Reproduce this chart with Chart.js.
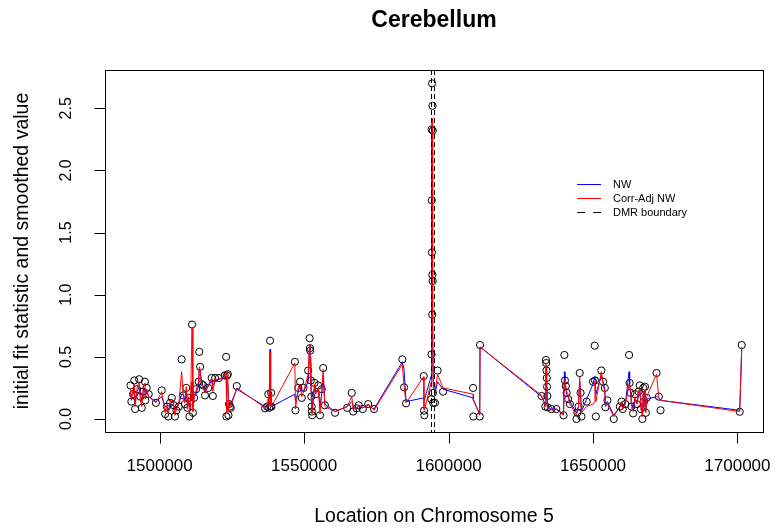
<!DOCTYPE html>
<html>
<head>
<meta charset="utf-8">
<script src="https://cdn.jsdelivr.net/npm/chart.js@4.4.1/dist/chart.umd.min.js"></script>
<style>
  html, body { margin: 0; padding: 0; background: #fff; }
  #wrap { width: 780px; height: 531px; }
</style>
</head>
<body>
<div id="wrap"><canvas id="c" width="780" height="531"></canvas></div>
<script>
// CpG locations on chromosome 5
const positions = [
  1489900, 1490200, 1490800, 1491200, 1491500, 1492200, 1492900, 1493300, 1493800, 1494300,
  1494900, 1495000, 1495500, 1496200, 1498700, 1500700, 1501900, 1502500, 1503000, 1503600,
  1504200, 1504900, 1505300, 1505800, 1506600, 1507600, 1508200, 1508700, 1509200, 1509600,
  1510000, 1510300, 1510700, 1511200, 1511500, 1511900, 1512600, 1513500, 1513700, 1514000,
  1514500, 1515100, 1515700, 1516800, 1518000, 1518400, 1519200, 1520500, 1522500, 1523000,
  1523100, 1523300, 1523600, 1523800, 1524000, 1524300, 1524600, 1526700, 1536500, 1537200,
  1537600, 1537900, 1538200, 1538400, 1538600, 1538700, 1546800, 1547000, 1548000, 1548600,
  1549200, 1549800, 1551400, 1551900, 1552000, 1552100, 1552300, 1552500, 1552600, 1552700,
  1552800, 1553600, 1554000, 1554900, 1555500, 1556100, 1556600, 1557200, 1560700, 1564900,
  1566500, 1567000, 1568200, 1568900, 1570300, 1572200, 1574200, 1584000, 1584600, 1585300,
  1591400, 1591500, 1591600, 1594050, 1594100, 1594150, 1594200, 1594250, 1594300, 1594350,
  1594400, 1594450, 1594500, 1594550, 1594600, 1594700, 1595300, 1596200, 1598100, 1608500,
  1608600, 1610800, 1610900, 1632200, 1633500, 1633700, 1633800, 1633900, 1634000, 1634100,
  1634200, 1634300, 1635600, 1637300, 1639800, 1640100, 1640300, 1640600, 1640900, 1641400,
  1642000, 1644300, 1644600, 1645000, 1645400, 1645700, 1646000, 1647800, 1650000, 1650600,
  1650700, 1651000, 1652900, 1653500, 1654100, 1654300, 1655000, 1657200, 1659300, 1659900,
  1660300, 1661200, 1662500, 1662700, 1663000, 1663300, 1663900, 1664500, 1665200, 1665800,
  1666200, 1666600, 1667100, 1667400, 1667700, 1668000, 1668300, 1668600, 1672000, 1672800,
  1673400, 1700800, 1701500
];

// initial fit statistic at each location
const fitStat = [
  0.27, 0.14, 0.20, 0.31, 0.08, 0.24, 0.32, 0.18, 0.09, 0.22,
  0.30, 0.15, 0.25, 0.20, 0.13, 0.23, 0.04, 0.10, 0.02, 0.13,
  0.17, 0.11, 0.02, 0.07, 0.10, 0.48, 0.19, 0.12, 0.25, 0.09,
  0.17, 0.02, 0.14, 0.76, 0.05, 0.17, 0.24, 0.30, 0.54, 0.42,
  0.28, 0.27, 0.19, 0.25, 0.33, 0.185, 0.33, 0.33, 0.35, 0.50,
  0.02, 0.35, 0.36, 0.03, 0.12, 0.10, 0.09, 0.265, 0.086, 0.10,
  0.20, 0.09, 0.63, 0.10, 0.21, 0.10, 0.46, 0.07, 0.25, 0.30,
  0.17, 0.25, 0.39, 0.65, 0.57, 0.55, 0.31, 0.18, 0.10, 0.06,
  0.03, 0.29, 0.20, 0.27, 0.03, 0.24, 0.41, 0.11, 0.05, 0.09,
  0.21, 0.06, 0.086, 0.11, 0.08, 0.12, 0.08, 0.48, 0.255, 0.126,
  0.345, 0.067, 0.03, 0.16, 0.52, 2.33, 1.76, 1.34, 2.70, 0.84,
  1.16, 2.52, 1.11, 2.32, 0.21, 0.13, 0.13, 0.39, 0.22, 0.25,
  0.02, 0.02, 0.595, 0.185, 0.10, 0.475, 0.45, 0.39, 0.33, 0.26,
  0.185, 0.094, 0.08, 0.08, 0.03, 0.515, 0.31, 0.265, 0.21, 0.16,
  0.12, 0.00, 0.05, 0.10, 0.37, 0.21, 0.02, 0.14, 0.30, 0.59,
  0.31, 0.02, 0.39, 0.30, 0.25, 0.094, 0.15, 0.00, 0.10, 0.14,
  0.08, 0.12, 0.515, 0.29, 0.21, 0.10, 0.045, 0.20, 0.12, 0.22,
  0.27, 0.08, 0.00, 0.25, 0.14, 0.26, 0.05, 0.17, 0.37, 0.18,
  0.07, 0.058, 0.595
];

// Nadaraya-Watson smoothed value
const nwSmooth = [
  0.22, 0.18, 0.20, 0.25, 0.14, 0.22, 0.26, 0.20, 0.15, 0.22,
  0.25, 0.20, 0.22, 0.18, 0.14, 0.18, 0.10, 0.10, 0.08, 0.10,
  0.12, 0.10, 0.07, 0.08, 0.12, 0.20, 0.20, 0.15, 0.22, 0.14,
  0.16, 0.10, 0.14, 0.30, 0.12, 0.18, 0.20, 0.28, 0.40, 0.38,
  0.30, 0.26, 0.22, 0.26, 0.31, 0.27, 0.31, 0.32, 0.33, 0.34,
  0.20, 0.30, 0.28, 0.16, 0.14, 0.12, 0.12, 0.24, 0.10, 0.10,
  0.14, 0.12, 0.56, 0.12, 0.18, 0.10, 0.20, 0.15, 0.22, 0.28,
  0.24, 0.22, 0.30, 0.60, 0.55, 0.45, 0.30, 0.20, 0.14, 0.10,
  0.08, 0.26, 0.22, 0.24, 0.10, 0.20, 0.35, 0.12, 0.06, 0.10,
  0.14, 0.10, 0.09, 0.10, 0.09, 0.11, 0.08, 0.46, 0.40, 0.14,
  0.17, 0.16, 0.15, 0.35, 0.90, 2.30, 2.30, 2.32, 2.33, 2.33,
  2.32, 2.31, 2.30, 2.20, 0.85, 0.30, 0.20, 0.30, 0.24, 0.17,
  0.15, 0.04, 0.58, 0.18, 0.12, 0.42, 0.40, 0.36, 0.30, 0.24,
  0.18, 0.10, 0.08, 0.08, 0.04, 0.38, 0.30, 0.25, 0.20, 0.18,
  0.14, 0.05, 0.08, 0.10, 0.30, 0.20, 0.06, 0.16, 0.28, 0.34,
  0.33, 0.20, 0.35, 0.30, 0.24, 0.12, 0.14, 0.03, 0.10, 0.12,
  0.10, 0.12, 0.38, 0.28, 0.22, 0.14, 0.08, 0.16, 0.12, 0.20,
  0.24, 0.10, 0.05, 0.20, 0.12, 0.22, 0.08, 0.16, 0.18, 0.17,
  0.15, 0.07, 0.56
];

// correlation-adjusted Nadaraya-Watson smoothed value
const corrAdjSmooth = [
  0.24, 0.15, 0.24, 0.28, 0.10, 0.25, 0.30, 0.15, 0.10, 0.26,
  0.29, 0.16, 0.24, 0.18, 0.13, 0.22, 0.05, 0.11, 0.04, 0.14,
  0.16, 0.12, 0.03, 0.08, 0.12, 0.38, 0.18, 0.13, 0.26, 0.08,
  0.18, 0.04, 0.15, 0.74, 0.06, 0.17, 0.23, 0.30, 0.42, 0.40,
  0.27, 0.25, 0.21, 0.27, 0.33, 0.22, 0.32, 0.32, 0.34, 0.38,
  0.05, 0.35, 0.34, 0.06, 0.12, 0.09, 0.10, 0.25, 0.09, 0.10,
  0.18, 0.10, 0.54, 0.11, 0.20, 0.10, 0.45, 0.08, 0.26, 0.28,
  0.18, 0.22, 0.36, 0.60, 0.56, 0.50, 0.30, 0.17, 0.10, 0.05,
  0.04, 0.28, 0.20, 0.25, 0.04, 0.22, 0.40, 0.10, 0.06, 0.10,
  0.18, 0.08, 0.09, 0.11, 0.09, 0.12, 0.07, 0.44, 0.26, 0.13,
  0.34, 0.08, 0.07, 0.30, 0.85, 2.35, 2.38, 2.40, 2.42, 2.40,
  2.40, 2.38, 2.36, 2.30, 0.80, 0.25, 0.22, 0.36, 0.25, 0.20,
  0.16, 0.03, 0.58, 0.19, 0.10, 0.45, 0.42, 0.38, 0.30, 0.24,
  0.15, 0.09, 0.07, 0.08, 0.03, 0.30, 0.32, 0.26, 0.22, 0.20,
  0.12, 0.03, 0.06, 0.10, 0.34, 0.18, 0.05, 0.10, 0.12, 0.14,
  0.30, 0.14, 0.38, 0.28, 0.22, 0.10, 0.12, 0.02, 0.10, 0.14,
  0.08, 0.12, 0.28, 0.26, 0.24, 0.10, 0.06, 0.18, 0.12, 0.22,
  0.25, 0.08, 0.02, 0.22, 0.10, 0.24, 0.05, 0.18, 0.36, 0.17,
  0.15, 0.06, 0.58
];

// DMR boundary locations
const dmrBounds = [1593900, 1594850];

// axis ticks
const xTicks = [1500000, 1550000, 1600000, 1650000, 1700000];
const yTicks = [0.0, 0.5, 1.0, 1.5, 2.0, 2.5];

// axis limits
const xLimits = [1481070, 1708860];
const yLimits = [-0.1046, 2.808];

const FONT = '"Liberation Sans", Arial, "DejaVu Sans", sans-serif';

const toXY = vals => positions.map((p, i) => ({ x: p, y: vals[i] }));

// frame, axes, labels, DMR boundaries and key, drawn in base-graphics style
const baseFrame = {
  id: 'baseFrame',
  afterDatasetsDraw(chart) {
    const { ctx, chartArea: a, scales: { x, y } } = chart;
    const L = Math.round(a.left) + 0.5, R = Math.round(a.right) + 0.5;
    const T = Math.round(a.top) + 0.5, B = Math.round(a.bottom) + 0.5;
    ctx.save();

    // DMR boundaries (dashed verticals)
    ctx.save();
    ctx.beginPath();
    ctx.rect(a.left, a.top, a.right - a.left, a.bottom - a.top);
    ctx.clip();
    ctx.strokeStyle = '#000';
    ctx.lineWidth = 1;
    ctx.setLineDash([5, 3]);
    dmrBounds.forEach(b => {
      const px = Math.round(x.getPixelForValue(b)) + 0.5;
      ctx.beginPath();
      ctx.moveTo(px, a.top);
      ctx.lineTo(px, a.bottom);
      ctx.stroke();
    });
    ctx.restore();

    // box
    ctx.strokeStyle = '#000';
    ctx.lineWidth = 1;
    ctx.setLineDash([]);
    ctx.strokeRect(L, T, R - L, B - T);

    const tick = 11;
    ctx.fillStyle = '#000';

    // x axis
    ctx.beginPath();
    xTicks.forEach(v => {
      const px = Math.round(x.getPixelForValue(v)) + 0.5;
      ctx.moveTo(px, B);
      ctx.lineTo(px, B + tick);
    });
    ctx.stroke();
    ctx.font = '17px ' + FONT;
    ctx.textAlign = 'center';
    ctx.textBaseline = 'middle';
    xTicks.forEach(v => {
      ctx.fillText(String(v), x.getPixelForValue(v), 466);
    });

    // y axis
    ctx.beginPath();
    yTicks.forEach(v => {
      const py = Math.round(y.getPixelForValue(v)) + 0.5;
      ctx.moveTo(L, py);
      ctx.lineTo(L - tick, py);
    });
    ctx.stroke();
    ctx.font = '16px ' + FONT;
    yTicks.forEach(v => {
      ctx.save();
      ctx.translate(67, y.getPixelForValue(v));
      ctx.rotate(-Math.PI / 2);
      ctx.fillText(v.toFixed(1), 0, 0);
      ctx.restore();
    });

    // axis titles
    ctx.font = '19.5px ' + FONT;
    ctx.fillText('Location on Chromosome 5', (a.left + a.right) / 2, 517);
    ctx.save();
    ctx.translate(23, (a.top + a.bottom) / 2);
    ctx.rotate(-Math.PI / 2);
    ctx.fillText('initial fit statistic and smoothed value', 0, 0);
    ctx.restore();

    // main title
    ctx.font = 'bold 23px ' + FONT;
    ctx.fillText('Cerebellum', (a.left + a.right) / 2, 21);

    // key
    const keyItems = [
      { label: 'NW', color: '#0000FF', dash: [] },
      { label: 'Corr-Adj NW', color: '#FF0000', dash: [] },
      { label: 'DMR boundary', color: '#000000', dash: [8, 8] }
    ];
    ctx.font = '11px ' + FONT;
    ctx.textAlign = 'left';
    keyItems.forEach((it, i) => {
      const ky = 184.5 + i * 14;
      ctx.strokeStyle = it.color;
      ctx.setLineDash(it.dash);
      ctx.beginPath();
      ctx.moveTo(577, ky);
      ctx.lineTo(601, ky);
      ctx.stroke();
      ctx.fillStyle = '#000';
      ctx.fillText(it.label, 613, ky);
    });

    ctx.restore();
  }
};

new Chart(document.getElementById('c'), {
  type: 'scatter',
  data: {
    datasets: [
      {
        label: 'Corr-Adj NW',
        type: 'line',
        data: toXY(corrAdjSmooth),
        borderColor: '#FF0000',
        borderWidth: 1,
        pointRadius: 0,
        tension: 0,
        fill: false
      },
      {
        label: 'NW',
        type: 'line',
        data: toXY(nwSmooth),
        borderColor: '#0000FF',
        borderWidth: 1,
        pointRadius: 0,
        tension: 0,
        fill: false
      },
      {
        label: 'fit statistic',
        data: toXY(fitStat),
        showLine: false,
        pointStyle: 'circle',
        pointRadius: 3.6,
        pointBorderWidth: 1,
        pointBorderColor: '#000',
        pointBackgroundColor: 'rgba(0,0,0,0)'
      }
    ]
  },
  options: {
    responsive: false,
    animation: false,
    devicePixelRatio: 1,
    layout: { padding: { left: 105, right: 17, top: 70, bottom: 99 } },
    plugins: { legend: { display: false }, tooltip: { enabled: false } },
    scales: {
      x: { type: 'linear', display: false, min: xLimits[0], max: xLimits[1] },
      y: { type: 'linear', display: false, min: yLimits[0], max: yLimits[1] }
    }
  },
  plugins: [baseFrame]
});
</script>
</body>
</html>
